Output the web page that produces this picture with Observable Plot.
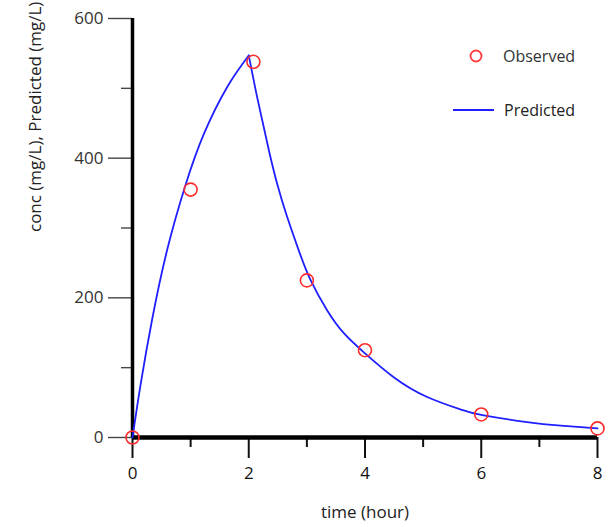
<!DOCTYPE html>
<html>
<head>
<meta charset="utf-8">
<script src="https://cdn.jsdelivr.net/npm/d3@7"></script>
<script src="https://cdn.jsdelivr.net/npm/@observablehq/plot@0.6"></script>
<style>
  html, body { margin: 0; padding: 0; background: #fff; }
  #chart svg { display: block; }
</style>
</head>
<body>
<div id="chart"></div>
<script>
// Observed data
const obsTime = [0, 1, 2.08, 3, 4, 6, 8];
const obsConc = [0, 355, 538, 225, 125, 33, 13];

// Predicted curve; rise phase then decline phase
const riseTime = [0, 0.14, 0.34, 0.6, 0.91, 1.23, 1.63, 2.0];
const riseConc = [0, 76, 170, 270, 361, 435, 502, 547];
const fallTime = [2.0, 2.12, 2.23, 2.35, 2.49, 2.66, 2.86, 3.06, 3.35, 3.64, 3.98, 4.5, 5.07, 5.65, 6.02, 6.79, 7.37, 8.0];
const fallConc = [547, 497, 455, 410, 363, 316, 268, 226, 182, 149, 122, 86, 58, 40, 32, 22, 17, 13];

// Tick labels
const xMajorTicks = [0, 2, 4, 6, 8];
const xMinorTicks = [1, 3, 5, 7];
const yMajorTicks = [0, 200, 400, 600];
const yMinorTicks = [100, 300, 500];

const xTitle = "time (hour)";
const yTitle = "conc (mg/L), Predicted (mg/L)";
const legendObserved = "Observed";
const legendPredicted = "Predicted";

const observed = obsTime.map((t, i) => ({t, c: obsConc[i]}));
const predicted = [
  ...riseTime.map((t, i) => ({t, c: riseConc[i], phase: "rise"})),
  ...fallTime.map((t, i) => ({t, c: fallConc[i], phase: "fall"}))
];

const FONT = "'Open Sans', 'Segoe UI', sans-serif";

const svg = Plot.plot({
  width: 610,
  height: 527,
  marginLeft: 132,
  marginRight: 13,
  marginTop: 18,
  marginBottom: 90,
  style: {fontFamily: FONT, fontSize: "17px", color: "#333", background: "#fff", overflow: "visible"},
  x: {domain: [0, 8], label: null},
  y: {domain: [0, 600], label: null},
  marks: [
    Plot.axisY(yMinorTicks, {tickSize: 11, text: null, label: null, stroke: "#444", strokeWidth: 1.4}),
    Plot.axisY(yMajorTicks, {tickSize: 24, tickPadding: 5, stroke: "#444", strokeWidth: 1.4, fontSize: 17, fill: "#333", label: null}),
    Plot.axisX(xMinorTicks, {tickSize: 10, text: null, label: null, stroke: "#111", strokeWidth: 2}),
    Plot.axisX(xMajorTicks, {tickSize: 21, tickPadding: 8, stroke: "#111", strokeWidth: 2, fontSize: 17, fill: "#111", label: null}),
    Plot.ruleX([0], {stroke: "#000", strokeWidth: 3.5}),
    Plot.ruleY([0], {stroke: "#000", strokeWidth: 4.5}),
    Plot.line(predicted, {x: "t", y: "c", z: "phase", curve: "natural", stroke: "#1f1fff", strokeWidth: 1.8}),
    Plot.dot(observed, {x: "t", y: "c", r: 6.5, stroke: "#ff2a2a", strokeWidth: 1.6, fill: "none"}),
    Plot.text([xTitle], {frameAnchor: "bottom", dy: 80, fontSize: 17, fill: "#222", fontFamily: FONT}),
    Plot.text([yTitle], {frameAnchor: "left", dx: -97, dy: 4, rotate: -90, fontSize: 17, fill: "#222", fontFamily: FONT})
  ]
});

// Legend (inside plot area, top-right)
const g = d3.select(svg).append("g")
  .attr("font-family", FONT).attr("font-size", 16).attr("text-anchor", "start");
g.append("circle").attr("cx", 476).attr("cy", 56).attr("r", 5.5)
  .attr("fill", "none").attr("stroke", "#ff3b3b").attr("stroke-width", 1.8);
g.append("text").attr("x", 503).attr("y", 56).attr("dy", "0.35em").attr("fill", "#333").text(legendObserved);
g.append("line").attr("x1", 453).attr("x2", 494).attr("y1", 110).attr("y2", 110)
  .attr("stroke", "#1f1fff").attr("stroke-width", 1.8);
g.append("text").attr("x", 504).attr("y", 110).attr("dy", "0.35em").attr("fill", "#222").text(legendPredicted);

document.getElementById("chart").appendChild(svg);
</script>
</body>
</html>
